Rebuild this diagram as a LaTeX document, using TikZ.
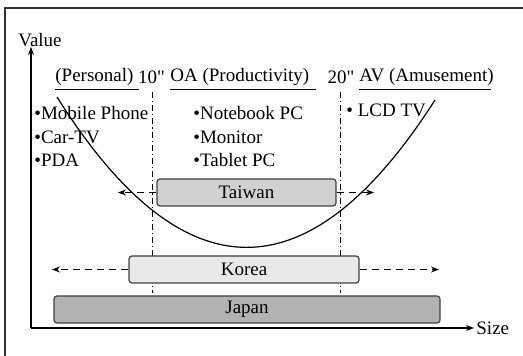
\documentclass[tikz,border=0pt]{standalone}
\usepackage{fontspec}
\setmainfont{Liberation Serif}
\usetikzlibrary{arrows.meta}

\begin{document}
\begin{tikzpicture}[x=0.5pt, y=-0.5pt, font=\fontsize{9.5}{11}\selectfont]
					\tikzstyle{band}=[draw=black!75, semithick, rounded corners=1.5pt, inner sep=0, minimum height=13.5pt]
					\tikzstyle{head}=[inner xsep=0, inner ysep=1.5pt, anchor=south west]
					\tikzstyle{item}=[inner sep=0, anchor=west]
					\tikzstyle{spread}=[thick, dash pattern=on 3.5pt off 2.5pt, -{Stealth[length=4pt, width=3pt]}]
					\tikzstyle{border}=[dash pattern=on 3pt off 1.5pt on 0.6pt off 1.5pt]

					\useasboundingbox (0,0) rectangle (523,356);
					\draw [line width=1pt, black!80] (5,356) -- (5,8) -- (523,8);

					\coordinate (origin) at (31,328);
					\coordinate (ytip) at (31,47);
					\coordinate (xtip) at (474,328);
					\draw [semithick, -{Stealth[length=4pt, width=3pt]}] (origin) -- (ytip);
					\draw [semithick, -{Stealth[length=4pt, width=3pt]}] (origin) -- (xtip);
					\node (value) [anchor=south west, inner sep=0] at (18,47) {Value};
					\node (size) [anchor=west, inner sep=1pt] at (xtip) {Size};

					\node (personal) [head] at (55,89) {(Personal)};
					\node (office) [head] at (170,89) {OA (Productivity)};
					\node (amuse) [head] at (359,89) {AV (Amusement)};
					\foreach \h/\w in {personal/84, office/146, amuse/132}
						\draw (\h.south west) -- +(\w,0);
					\node (ten) at (151.5,77) {10\textquotedbl};
					\node (twenty) at (341,77) {20\textquotedbl};

					\node (mobile) [item] at (34,113) {\textbullet Mobile Phone};
					\node (cartv) [item] at (34,137) {\textbullet Car-TV};
					\node (pda) [item] at (34,160) {\textbullet PDA};
					\node (notebook) [item] at (193,113) {\textbullet Notebook PC};
					\node (monitor) [item] at (193,137) {\textbullet Monitor};
					\node (tablet) [item] at (193,160) {\textbullet Tablet PC};
					\node (lcdtv) [item] at (346,110) {\textbullet\ LCD TV};

					\coordinate (tentop) at (152,92);
					\coordinate (tenbot) at (152,293);
					\coordinate (twentytop) at (340.5,92);
					\coordinate (twentybot) at (340.5,293);
					\draw [border] (tentop) -- (tenbot);
					\draw [border] (twentytop) -- (twentybot);

					\draw [semithick] (57,97) .. controls (183,297) and (309,297) .. (435,100);

					\node (taiwan) [band, fill=black!18, minimum width=89.5pt] at (246.5,192.5) {Taiwan};
					\node (korea) [band, fill=black!9, minimum width=115pt] at (244,269.5) {Korea};
					\node (japan) [band, fill=black!30, minimum width=193pt] at (247,309.5) {Japan};

					\coordinate (twleft) at (118,192.5);
					\coordinate (twright) at (374,192.5);
					\coordinate (koleft) at (52,269.5);
					\coordinate (koright) at (439,269.5);
					\draw [spread] (taiwan.west) -- (twleft);
					\draw [spread] (taiwan.east) -- (twright);
					\draw [spread] (korea.west) -- (koleft);
					\draw [spread] (korea.east) -- (koright);
				\end{tikzpicture}
\end{document}
